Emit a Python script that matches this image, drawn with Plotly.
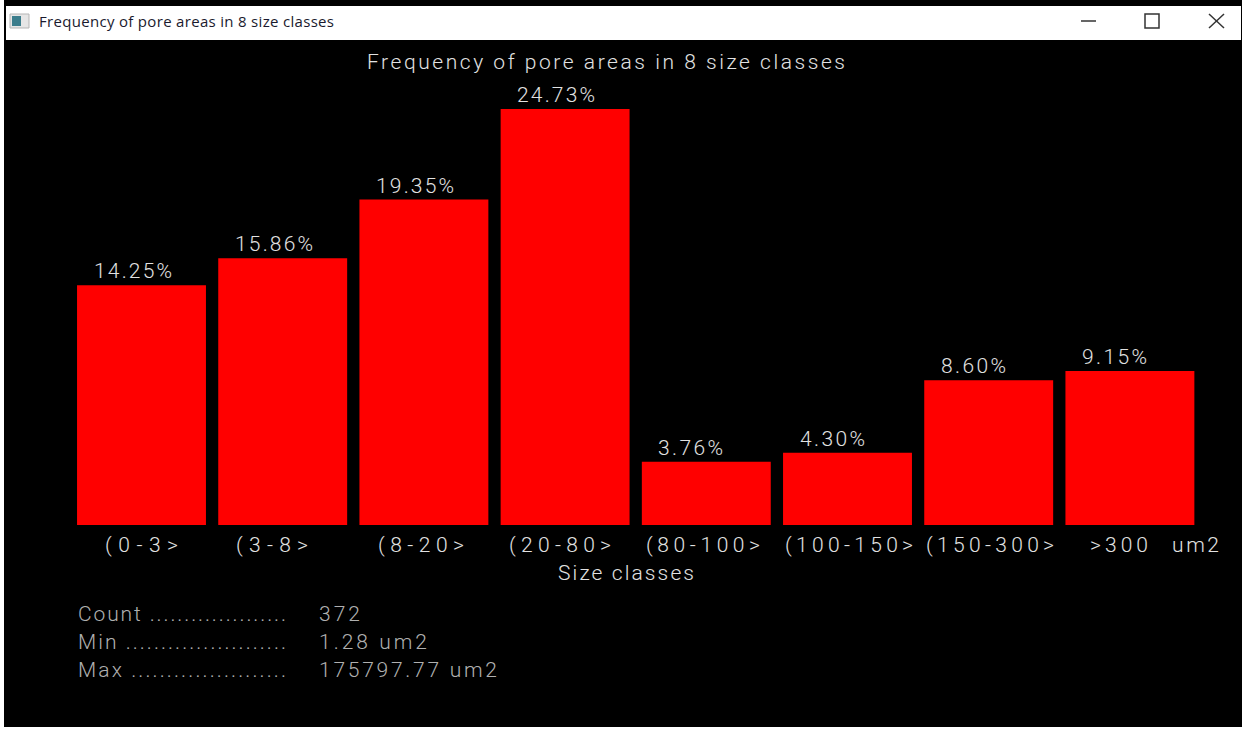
import json
import plotly.graph_objects as go

W, H = 1247, 729

# ---- data ----
categories = ["(0-3>", "(3-8>", "(8-20>", "(20-80>", "(80-100>", "(100-150>", "(150-300>", ">300"]
percent = [14.25, 15.86, 19.35, 24.73, 3.76, 4.30, 8.60, 9.15]
value_labels = ["14.25%", "15.86%", "19.35%", "24.73%", "3.76%", "4.30%", "8.60%", "9.15%"]
window_title = "Frequency of pore areas in 8 size classes"
x_title = "Size classes"
unit_label = "um2"
stat_names = ["Count ....................", "Min .......................", "Max ......................"]
stat_values = ["372", "1.28 um2", "175797.77 um2"]

# ---- style and placement ----
FONT = "Roboto"
WEIGHT = 300
TXT = "#e2e2e2"
DIM = "#b0b0b0"
SIZE = 21
INSET = 2
value_widths = [78, 78, 78, 78, 65, 65, 65, 65]
tick_left = [105, 236, 378, 509, 646, 785, 926, 1090]
tick_widths = [73, 72, 86, 102, 114, 128, 128, 58]
stat_rows = [614, 642, 670]
stat_value_widths = [41, 108, 178]

widths = []


def px(x):
    return x / W


def py(y):
    return 1 - y / H


def text(x, y, s, target=None, size=SIZE, color=TXT, family=FONT, weight=WEIGHT):
    widths.append(target)
    return dict(xref="paper", yref="paper", x=px(x - INSET), y=py(y), text=s, showarrow=False,
                xanchor="left", yanchor="middle", align="left",
                font=dict(family=family, size=size, color=color, weight=weight))


def rect(x0, y0, x1, y1, fill="#ffffff", line=None, width=1):
    return dict(type="rect", xref="paper", yref="paper", x0=px(x0), x1=px(x1), y0=py(y0), y1=py(y1),
                fillcolor=fill, line=dict(color=line or fill, width=width if line else 0), layer="above")


def seg(x0, y0, x1, y1, color="#333333", width=1.5):
    return dict(type="line", xref="paper", yref="paper", x0=px(x0), x1=px(x1), y0=py(y0), y1=py(y1),
                line=dict(color=color, width=width), layer="above")


fig = go.Figure(go.Bar(x=categories, y=percent, width=0.913,
                       marker=dict(color="#ff0000", line=dict(width=0)), showlegend=False,
                       hoverinfo="skip"))

ann = []
for c, v, s, w in zip(categories, percent, value_labels, value_widths):
    widths.append(w)
    ann.append(dict(x=c, y=v, xref="x", yref="y", text=s, showarrow=False, xanchor="left",
                    yanchor="middle", align="left", xshift=-50, yshift=14,
                    font=dict(family=FONT, size=SIZE, color=TXT, weight=WEIGHT)))

for x, s, w in zip(tick_left, categories, tick_widths):
    ann.append(text(x, 545, s, w))
ann.append(text(1172, 545, unit_label, 47))
ann.append(text(367, 62, window_title, 478))
ann.append(text(558, 573, x_title, 136))

for y, n, v, w in zip(stat_rows, stat_names, stat_values, stat_value_widths):
    ann.append(text(78, y, n, 208, color=DIM))
    ann.append(text(319, y, v, w, color=DIM))

ann.append(text(39, 21, window_title, 295, size=15, color="#1a1a2e", family="Open Sans", weight=400))

shapes = [
    rect(0, 0, 4, H), rect(1242, 0, W, H), rect(0, 727, W, H),
    rect(6, 6, 1241, 40),
    rect(10, 14, 29, 28, fill="#e6e6e6", line="#b5b5b5"),
    rect(12, 16, 21, 26, fill="#3b7d8c"),
    seg(1081, 21, 1096, 21),
    rect(1145, 14, 1159, 28, fill="#ffffff", line="#333333", width=1.5),
    seg(1209, 14, 1224, 28), seg(1224, 14, 1209, 28),
]

SLOT, C0, BASE, PPU = 141.2, 141.5, 525, 16.82
fig.update_layout(
    width=W, height=H, autosize=False,
    margin=dict(l=0, r=0, t=0, b=0),
    paper_bgcolor="#000000", plot_bgcolor="#000000",
    xaxis=dict(domain=[0, 1], range=[-C0 / SLOT, (W - C0) / SLOT], type="category",
               categoryorder="array", categoryarray=categories,
               visible=False, showgrid=False, zeroline=False),
    yaxis=dict(domain=[0, 1], range=[(BASE - H) / PPU, BASE / PPU],
               visible=False, showgrid=False, zeroline=False),
    annotations=ann, shapes=shapes,
)

post = """
document.body.style.margin='0';document.body.style.overflow='hidden';document.body.style.background='#000';
var targetWidths = %s;
function fitTexts(){
  document.querySelectorAll('.annotation-text').forEach(function(t,i){
    if(targetWidths[i]){t.setAttribute('textLength',targetWidths[i]);t.setAttribute('lengthAdjust','spacing');}
  });
}
fitTexts();setTimeout(fitTexts,50);
""" % json.dumps(widths)

fig.write_html("out.html", config={"displayModeBar": False}, post_script=post)
